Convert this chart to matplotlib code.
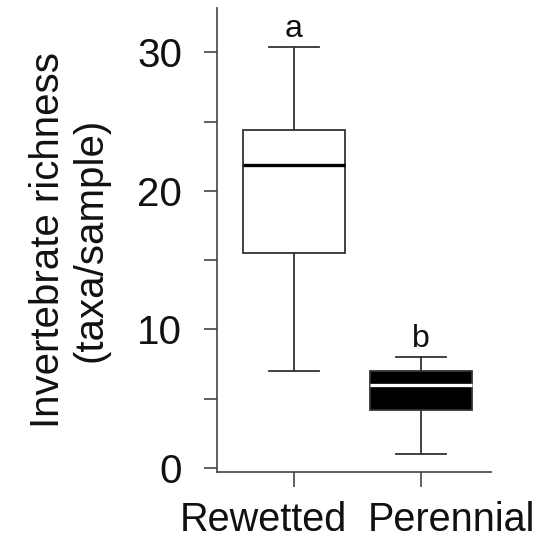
import matplotlib
matplotlib.use("Agg")
import matplotlib.pyplot as plt
from matplotlib.transforms import ScaledTranslation

plt.rcParams['font.family'] = ['Liberation Sans', 'DejaVu Sans']

categories = ["Rewetted", "Perennial"]
whisker_low = [7.0, 1.0]
q1 = [15.5, 4.2]
median = [21.9, 6.0]
q3 = [24.4, 7.0]
whisker_high = [30.4, 8.0]
letters = ["a", "b"]
yticks = [0, 5, 10, 15, 20, 25, 30]
ytick_labels = ["0", "", "10", "", "20", "", "30"]

fig = plt.figure(figsize=(5.48, 5.41), dpi=100)
ax = fig.add_axes([0.396, 0.1275, 0.5, 0.8577])

stats = []
for i, c in enumerate(categories):
    stats.append(dict(label=c, whislo=whisker_low[i], q1=q1[i], med=median[i],
                      q3=q3[i], whishi=whisker_high[i], fliers=[]))

edge = '#333333'
positions = [1, 2]
for i, s in enumerate(stats):
    face = 'white' if i == 0 else 'black'
    medc = 'black' if i == 0 else 'white'
    ax.bxp([s], positions=[positions[i]], widths=0.8, patch_artist=True,
           showfliers=False,
           boxprops=dict(facecolor=face, edgecolor=edge, linewidth=1.3),
           medianprops=dict(color=medc, linewidth=2.4, solid_capstyle='butt'),
           whiskerprops=dict(color=edge, linewidth=1.3),
           capprops=dict(color=edge, linewidth=1.3),
           capwidths=0.4)
    ax.text(positions[i], whisker_high[i] + 0.2, letters[i], ha='center', va='bottom',
            fontsize=23, color='#111111')

ax.set_xlim(0.394, 2.551)
ax.set_ylim(-0.29, 33.2)
ax.set_yticks(yticks)
ax.set_yticklabels(ytick_labels)
ax.set_xticks(positions)
ax.set_xticklabels(categories)

for sp in ['top', 'right']:
    ax.spines[sp].set_visible(False)
for sp in ['left', 'bottom']:
    ax.spines[sp].set_color('#444444')
    ax.spines[sp].set_linewidth(1.2)

ax.tick_params(axis='y', length=9.5, width=1.2, color='#444444', labelsize=29,
               pad=15.5, labelcolor='#111111')
ax.tick_params(axis='x', length=11, width=1.2, color='#444444', labelsize=28.5,
               pad=10, labelcolor='#111111')

# shift category labels apart horizontally as in the reference
offsets_px = [-31, 30]
for lab, dx in zip(ax.get_xticklabels(), offsets_px):
    lab.set_transform(lab.get_transform() + ScaledTranslation(dx / 100, 0, fig.dpi_scale_trans))

ax.set_ylabel("Invertebrate richness\n(taxa/sample)", fontsize=29, color='#111111',
              labelpad=20, linespacing=1.15)

fig.savefig("out.png", dpi=100)
